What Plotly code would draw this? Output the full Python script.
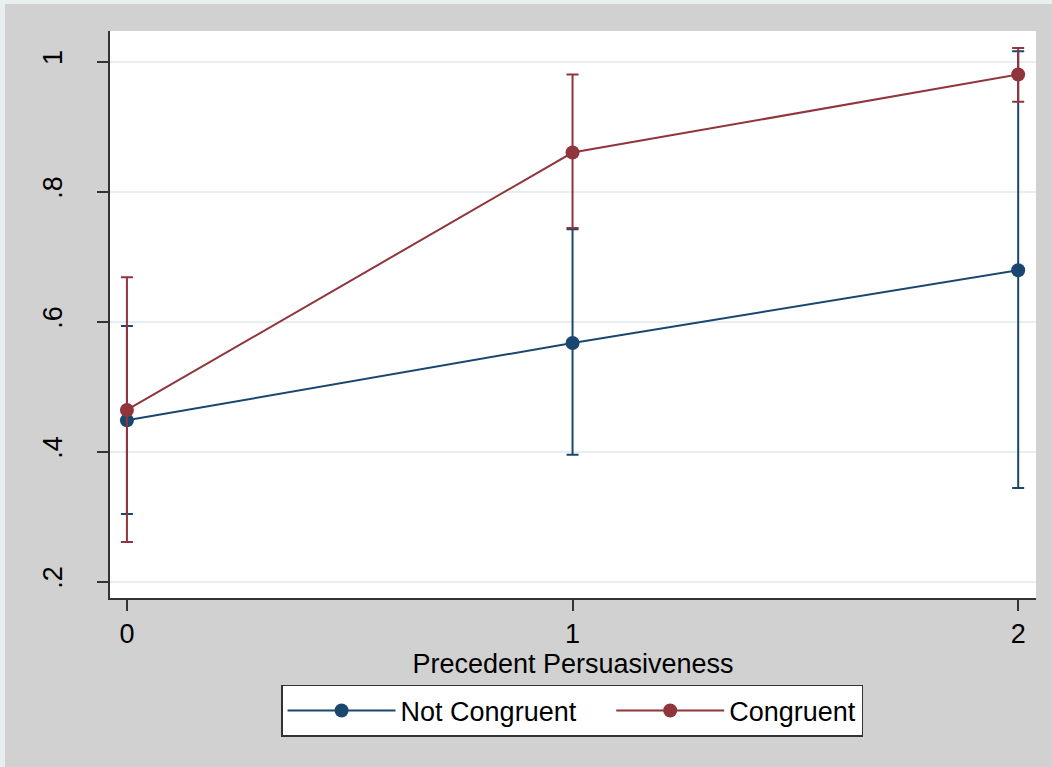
import plotly.graph_objects as go

persuasiveness = [0, 1, 2]
not_cong_mean = [0.448, 0.567, 0.679]
not_cong_lo = [0.304, 0.395, 0.344]
not_cong_hi = [0.593, 0.742, 1.016]
cong_mean = [0.464, 0.860, 0.980]
cong_lo = [0.261, 0.744, 0.938]
cong_hi = [0.668, 0.980, 1.021]

y_tickvals = [0.2, 0.4, 0.6, 0.8, 1.0]
y_ticktext = [".2", ".4", ".6", ".8", "1"]
x_tickvals = [0, 1, 2]

NAVY = "#1a476f"
MAROON = "#90353b"
FONT = "Liberation Sans, Arial, sans-serif"
FS = 27
PAD = "\u00a0" * 4  # spacing after the first legend entry


def series(name, mean, lo, hi, color):
    return go.Scatter(
        x=persuasiveness, y=mean, name=name, mode="lines+markers",
        line=dict(color=color, width=2),
        marker=dict(color=color, size=14),
        error_y=dict(type="data", symmetric=False,
                     array=[h - m for h, m in zip(hi, mean)],
                     arrayminus=[m - l for m, l in zip(mean, lo)],
                     color=color, thickness=2, width=6),
    )


fig = go.Figure()
fig.add_trace(series("Not Congruent" + PAD, not_cong_mean, not_cong_lo, not_cong_hi, NAVY))
fig.add_trace(series("Congruent", cong_mean, cong_lo, cong_hi, MAROON))

fig.update_layout(
    width=1047, height=763,
    margin=dict(l=105, r=16, t=27, b=169),
    paper_bgcolor="#d1d1d1",
    plot_bgcolor="white",
    font=dict(family=FONT, size=FS, color="black"),
    showlegend=True,
    legend=dict(orientation="h", x=0.499, xanchor="center", y=-0.1534, yanchor="top",
                bgcolor="white", bordercolor="#333333", borderwidth=1.5,
                font=dict(size=FS), itemwidth=108,
                traceorder="normal"),
    xaxis=dict(range=[-0.038, 2.04], tickvals=x_tickvals, ticks="outside", ticklen=11,
               tickwidth=1.5, tickcolor="#333333", showgrid=False, zeroline=False,
               showline=True, linecolor="#333333", linewidth=1.5,
               title=dict(text="Precedent Persuasiveness", standoff=0, font=dict(size=FS)),
               tickfont=dict(size=FS)),
    yaxis=dict(range=[0.1747, 1.047], tickvals=y_tickvals, ticktext=y_ticktext,
               tickangle=-90, ticks="outside", ticklen=11, tickwidth=1.5,
               tickcolor="#333333", showgrid=True, gridcolor="#e6eef0", gridwidth=1.5,
               zeroline=False, showline=True, linecolor="#333333", linewidth=1.5,
               ticklabelstandoff=24, tickfont=dict(size=FS)),
)

fig.write_html(
    "out.html",
    post_script="document.body.style.margin='4px 0 0 5px';"
                "document.body.style.background='#e9eef0';"
                "document.body.style.overflow='hidden';",
)
